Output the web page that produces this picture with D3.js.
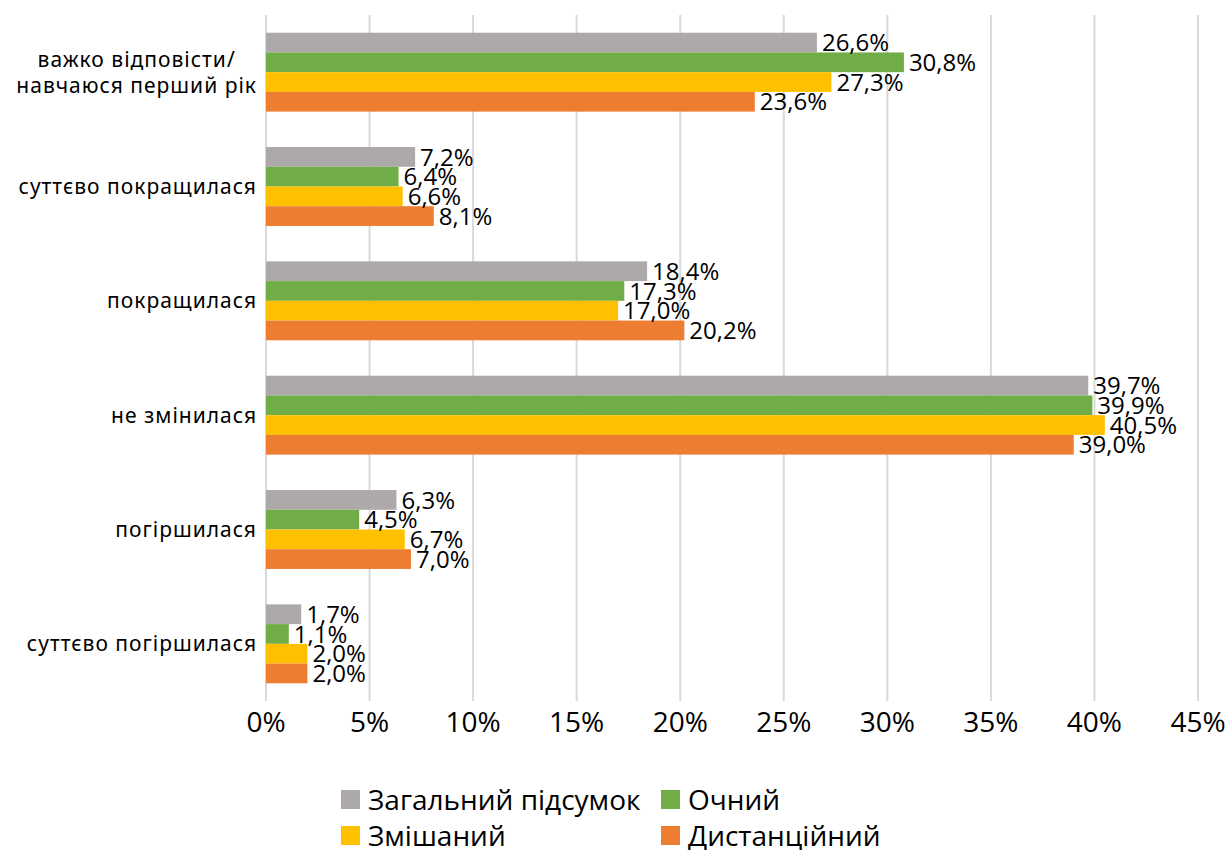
<!DOCTYPE html>
<html>
<head>
<meta charset="utf-8">
<script src="https://cdn.jsdelivr.net/npm/d3@7"></script>
<style>
  body { margin: 0; background: #fff; }
  svg text { fill: #000; }
</style>
</head>
<body>
<svg id="chart" width="1230" height="850"></svg>
<script>
// data
const categories = [
  "важко відповісти/\nнавчаюся перший рік",
  "суттєво покращилася",
  "покращилася",
  "не змінилася",
  "погіршилася",
  "суттєво погіршилася"
];
const seriesNames = ["Загальний підсумок", "Очний", "Змішаний", "Дистанційний"];
const seriesColors = ["#ADA9A8", "#70AD47", "#FFC000", "#ED7D31"];
const total   = [26.6, 7.2, 18.4, 39.7, 6.3, 1.7];
const ochnyi  = [30.8, 6.4, 17.3, 39.9, 4.5, 1.1];
const zmish   = [27.3, 6.6, 17.0, 40.5, 6.7, 2.0];
const dyst    = [23.6, 8.1, 20.2, 39.0, 7.0, 2.0];
const xTicks = [0, 5, 10, 15, 20, 25, 30, 35, 40, 45];

const seriesValues = [total, ochnyi, zmish, dyst];

const svg = d3.select("#chart");
const margin = {left: 266, right: 32, top: 15, bottom: 149};
const width = 1230, height = 850;
const innerWidth = width - margin.left - margin.right;
const innerHeight = height - margin.top - margin.bottom;

const x = d3.scaleLinear().domain([0, 45]).range([margin.left, margin.left + innerWidth]);
const y = d3.scaleBand().domain(categories).range([margin.top, margin.top + innerHeight]).paddingInner(0.31).paddingOuter(0.155);
const ySub = d3.scaleBand().domain(d3.range(seriesNames.length)).range([0, y.bandwidth()]);

const fmt = v => d3.format(".1f")(v).replace(".", ",") + "%";

// gridlines
svg.append("g")
  .selectAll("line")
  .data(xTicks)
  .join("line")
    .attr("x1", d => x(d)).attr("x2", d => x(d))
    .attr("y1", margin.top).attr("y2", margin.top + innerHeight)
    .attr("stroke", "#d9d9d9")
    .attr("stroke-width", 2);

// x axis labels
svg.append("g")
  .selectAll("text")
  .data(xTicks)
  .join("text")
    .attr("x", d => x(d))
    .attr("y", margin.top + innerHeight + 31)
    .attr("text-anchor", "middle")
    .style("font-family", "'Open Sans', sans-serif")
    .style("font-size", "28px")
    .text(d => d + "%");

// bars
const groups = svg.append("g")
  .selectAll("g")
  .data(categories)
  .join("g")
    .attr("transform", d => `translate(0,${y(d)})`);

groups.each(function(cat, ci) {
  const g = d3.select(this);
  seriesValues.forEach((vals, si) => {
    g.append("rect")
      .attr("x", x(0))
      .attr("y", ySub(si))
      .attr("width", x(vals[ci]) - x(0))
      .attr("height", ySub.bandwidth())
      .attr("fill", seriesColors[si]);
  });
  seriesValues.forEach((vals, si) => {
    g.append("text")
      .attr("x", x(vals[ci]) + 5)
      .attr("y", ySub(si) + ySub.bandwidth() / 2)
      .attr("dy", "0.36em")
      .style("font-family", "'Open Sans', sans-serif")
      .style("font-size", "24px")
      .text(fmt(vals[ci]));
  });
});

// category labels (multi-line ones centred on their longest line, block right-aligned)
const labelRight = 257;
svg.append("g")
  .selectAll("g")
  .data(categories)
  .join("g")
    .each(function(d) {
      const g = d3.select(this);
      const lines = d.split("\n");
      const cy = y(d) + y.bandwidth() / 2;
      const lh = 26;
      const texts = lines.map((ln, i) => g.append("text")
        .style("font-family", "'Noto Sans', sans-serif")
        .style("font-size", "21px")
        .style("letter-spacing", "1px")
        .attr("y", cy + (i - (lines.length - 1) / 2) * lh)
        .attr("dy", "0.35em")
        .text(ln));
      const maxW = d3.max(texts, t => t.node().getComputedTextLength());
      texts.forEach(t => t.attr("text-anchor", "middle").attr("x", labelRight - maxW / 2));
    });

// legend
const legendPos = [[341, 800], [661, 800], [341, 836], [661, 836]];
const legend = svg.append("g")
  .selectAll("g")
  .data(seriesNames)
  .join("g")
    .attr("transform", (d, i) => `translate(${legendPos[i][0]},${legendPos[i][1]})`);
legend.append("rect")
  .attr("x", 0).attr("y", -10)
  .attr("width", 19).attr("height", 19)
  .attr("fill", (d, i) => seriesColors[i]);
legend.append("text")
  .attr("x", 27)
  .attr("dy", "0.36em")
  .style("font-family", "'Open Sans', sans-serif")
  .style("font-size", "28px")
  .text(d => d);
</script>
</body>
</html>
